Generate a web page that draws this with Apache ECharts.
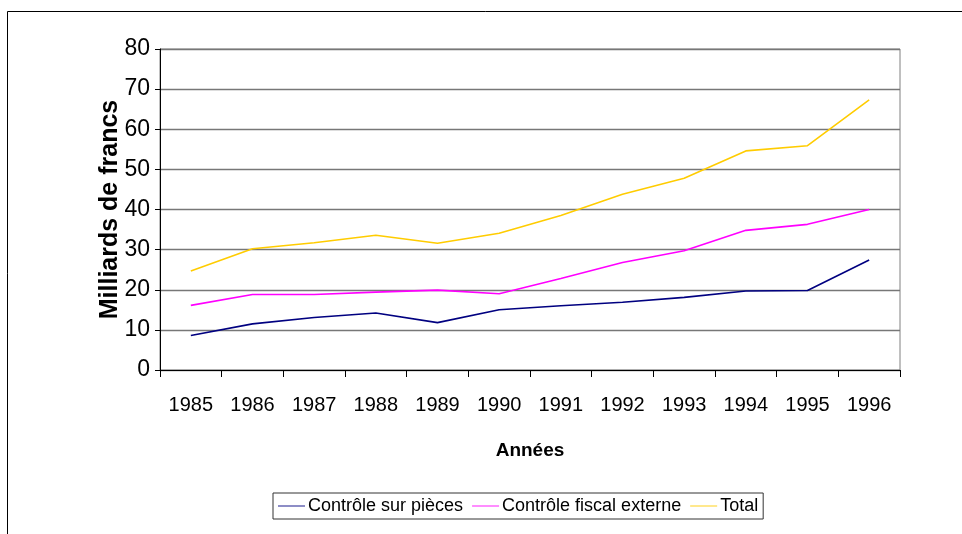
<!DOCTYPE html>
<html>
<head>
<meta charset="utf-8">
<script src="https://cdn.jsdelivr.net/npm/echarts@6/dist/echarts.min.js"></script>
<style>
  html, body { margin: 0; padding: 0; background: #fff; }
  #chart { width: 962px; height: 534px; }
</style>
</head>
<body>
<div id="chart"></div>
<script>
// Montants redressés par type de contrôle, en milliards de francs
const years = ['1985','1986','1987','1988','1989','1990','1991','1992','1993','1994','1995','1996'];
const controleSurPieces = [8.6, 11.5, 13.1, 14.2, 11.8, 15.0, 16.0, 16.9, 18.1, 19.7, 19.8, 27.4];
const controleFiscalExterne = [16.1, 18.8, 18.8, 19.4, 19.9, 19.0, 22.8, 26.8, 29.7, 34.8, 36.3, 40.0];
const total = [24.7, 30.2, 31.7, 33.6, 31.6, 34.1, 38.5, 43.8, 47.8, 54.6, 55.9, 67.3];
const yTicks = { min: 0, max: 80, interval: 10 };

const FONT = "'Liberation Sans', Arial, sans-serif";
const lineIcon = 'path://M0,0 L30,0 L30,1 L0,1 Z';

const chart = echarts.init(document.getElementById('chart'), null, { renderer: 'canvas' });

function lineSeries(name, data, color) {
  return {
    name: name,
    type: 'line',
    data: data,
    symbol: 'none',
    smooth: false,
    lineStyle: { color: color, width: 1.6 },
    itemStyle: { color: color },
    emphasis: { disabled: true },
    animation: false
  };
}

chart.setOption({
  animation: false,
  backgroundColor: '#ffffff',
  textStyle: { fontFamily: FONT, color: '#000' },
  graphic: [{
    type: 'rect',
    shape: { x: 7.5, y: 11.5, width: 980, height: 560 },
    style: { fill: 'none', stroke: '#000', lineWidth: 1 },
    silent: true,
    z: -1
  }],
  grid: {
    left: 160, right: 62, top: 49, bottom: 164,
    show: true, borderColor: '#808080', borderWidth: 1,
    backgroundColor: 'transparent', containLabel: false
  },
  legend: {
    data: ['Contrôle sur pièces', 'Contrôle fiscal externe', 'Total'],
    left: 273, top: 493,
    orient: 'horizontal',
    icon: lineIcon,
    itemWidth: 27, itemHeight: 1.5,
    itemGap: 9,
    padding: [4, 5, 4, 5],
    borderColor: '#333', borderWidth: 1,
    textStyle: { fontFamily: FONT, fontSize: 18, color: '#000', padding: [0, 0, 0, -2] },
    selectedMode: false
  },
  xAxis: {
    type: 'category',
    data: years,
    boundaryGap: true,
    name: 'Années',
    nameLocation: 'middle',
    nameGap: 71,
    nameMoveOverlap: false,
    nameTextStyle: { fontFamily: FONT, fontSize: 19, fontWeight: 'bold', color: '#000' },
    axisLine: { show: true, lineStyle: { color: '#000', width: 1 } },
    axisTick: { show: true, length: 7, lineStyle: { color: '#000' } },
    axisLabel: { fontFamily: FONT, fontSize: 20, color: '#000', margin: 25, interval: 0 },
    splitLine: { show: false }
  },
  yAxis: {
    type: 'value',
    min: yTicks.min, max: yTicks.max, interval: yTicks.interval,
    name: 'Milliards de francs',
    nameLocation: 'middle',
    nameRotate: 90,
    nameGap: 37,
    nameMoveOverlap: false,
    nameTextStyle: { fontFamily: FONT, fontSize: 25, fontWeight: 'bold', color: '#000' },
    axisLine: { show: true, lineStyle: { color: '#000', width: 1 } },
    axisTick: { show: true, length: 5, inside: false, lineStyle: { color: '#000' } },
    axisLabel: { fontFamily: FONT, fontSize: 23, color: '#000', margin: 10 },
    splitLine: { show: true, lineStyle: { color: '#777', width: 1.3 } }
  },
  series: [
    lineSeries('Contrôle sur pièces', controleSurPieces, '#000080'),
    lineSeries('Contrôle fiscal externe', controleFiscalExterne, '#FF00FF'),
    lineSeries('Total', total, '#FFCC00')
  ]
});
</script>
</body>
</html>
